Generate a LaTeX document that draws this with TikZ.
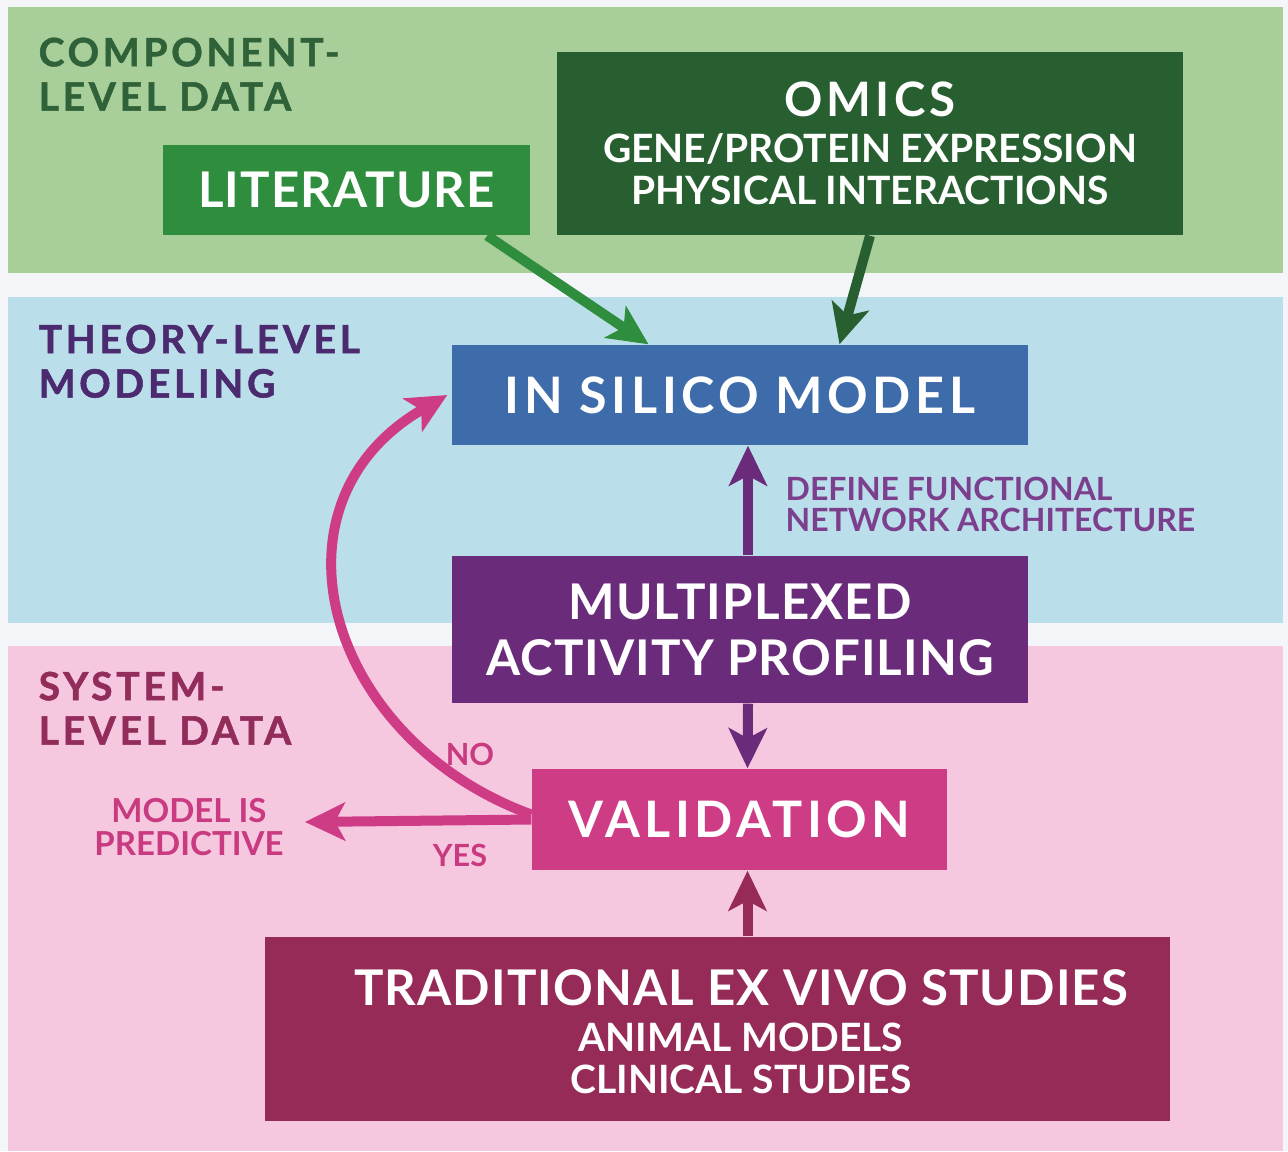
\documentclass[tikz,border=0pt]{standalone}
\usepackage{fontspec}
\setmainfont{Lato}
\newfontfamily\bandfont{Lato}[LetterSpace=9.5, BoldFeatures={FakeBold=1.3}]
\newfontfamily\widefont{Lato}[LetterSpace=9]
\newfontfamily\slightfont{Lato}[LetterSpace=2.3]
\usepackage{tikz}
\usetikzlibrary{arrows.meta,calc}
\definecolor{PageBg}{RGB}{244, 245, 248}
\definecolor{BandGreen}{RGB}{168, 207, 154}
\definecolor{BandBlue}{RGB}{186, 223, 234}
\definecolor{BandPink}{RGB}{246, 200, 223}
\definecolor{LitGreen}{RGB}{47, 142, 62}
\definecolor{OmicsGreen}{RGB}{40, 95, 48}
\definecolor{ModelBlue}{RGB}{62, 107, 170}
\definecolor{MapPurple}{RGB}{106, 43, 123}
\definecolor{ValidPink}{RGB}{207, 60, 134}
\definecolor{TradMagenta}{RGB}{150, 43, 88}
\definecolor{CompText}{RGB}{47, 98, 56}
\definecolor{TheoryText}{RGB}{75, 42, 111}
\definecolor{SystemText}{RGB}{146, 44, 90}
\definecolor{DefineText}{RGB}{124, 63, 142}
\definecolor{LoopText}{RGB}{201, 58, 128}
\tikzset{
    stepbox/.style={inner sep=0pt, text=white, font=\bfseries, align=center},
    bandlabel/.style={inner sep=0pt, anchor=north west, align=left, font=\bandfont\bfseries\fontsize{11.1}{12.6}\selectfont},
    flow/.style={line width=0.1cm, -{Stealth[length=0.4cm, width=0.38cm, inset=0.1cm]}},
}

\begin{document}
\begin{tikzpicture}
    \useasboundingbox (0,0) rectangle (12.88,-11.51);
    \fill[PageBg] (0,0) rectangle (12.88,-11.51);
    %%Bands
    \fill[BandGreen] (0.08,-0.07) rectangle (12.83,-2.73);
    \fill[BandBlue] (0.08,-2.97) rectangle (12.83,-6.23);
    \fill[BandPink] (0.08,-6.46) rectangle (12.83,-11.51);
    \node[bandlabel, text=CompText] (complabel) at (0.38,-0.37) {COMPONENT-\\LEVEL DATA};
    \node[bandlabel, text=TheoryText] (theorylabel) at (0.38,-3.24) {THEORY-LEVEL\\MODELING};
    \node[bandlabel, text=SystemText] (systemlabel) at (0.38,-6.71) {SYSTEM-\\LEVEL DATA};

    %%Boxes
    \node[stepbox, fill=LitGreen, minimum width=3.67cm, minimum height=0.90cm,
        font=\slightfont\bfseries\fontsize{14}{16}\selectfont] (lit) at (3.465,-1.90) {LITERATURE};
    \node[stepbox, fill=OmicsGreen, minimum width=6.26cm, minimum height=1.83cm] (omics) at (8.70,-1.435)
        {{\widefont\bfseries\fontsize{13.5}{13.7}\selectfont OMICS}\\[1pt]
         {\fontsize{11.1}{12.8}\selectfont GENE/PROTEIN EXPRESSION}\\
         {\fontsize{11.1}{12.8}\selectfont PHYSICAL INTERACTIONS}};
    \node[stepbox, fill=ModelBlue, minimum width=5.76cm, minimum height=1.00cm,
        font=\widefont\bfseries\fontsize{14.3}{16}\selectfont] (model) at (7.40,-3.95) {IN SILICO MODEL};
    \node[stepbox, fill=MapPurple, minimum width=5.76cm, minimum height=1.47cm,
        font=\slightfont\bfseries\fontsize{14}{15.9}\selectfont] (map) at (7.40,-6.295) {MULTIPLEXED\\ACTIVITY PROFILING};
    \node[stepbox, fill=ValidPink, minimum width=4.15cm, minimum height=1.01cm,
        font=\widefont\bfseries\fontsize{14.3}{16}\selectfont] (valid) at (7.395,-8.195) {VALIDATION};
    \node[stepbox, fill=TradMagenta, minimum width=9.05cm, minimum height=1.84cm] (trad) at (7.175,-10.29) {};
    \node[stepbox] (tradtext) at (7.41,-10.32)
        {{\slightfont\bfseries\fontsize{14}{15}\selectfont TRADITIONAL EX VIVO STUDIES}\\[1pt]
         {\fontsize{11.1}{13.2}\selectfont ANIMAL MODELS}\\
         {\fontsize{11.1}{13.2}\selectfont CLINICAL STUDIES}};

    %%Side labels
    \node[inner sep=0pt, anchor=north west, align=left, text=DefineText,
        font=\bfseries\fontsize{9.1}{8.8}\selectfont] (define) at (7.85,-4.76)
        {DEFINE FUNCTIONAL\\NETWORK ARCHITECTURE};
    \node[inner sep=0pt, text=LoopText, font=\bfseries\fontsize{8.7}{9}\selectfont] (no) at (4.70,-7.54) {NO};
    \node[inner sep=0pt, text=LoopText, font=\bfseries\fontsize{8.7}{9}\selectfont] (yes) at (4.60,-8.55) {YES};
    \node[inner sep=0pt, text=LoopText, align=center, font=\bfseries\fontsize{9.4}{9.4}\selectfont] (predictive) at (1.89,-8.27)
        {MODEL IS\\PREDICTIVE};
    \coordinate (exit) at (3.05,-8.22);

    %%Arrows
    \draw[flow, LitGreen] (lit.-18.9) to (model.151.8);
    \draw[flow, OmicsGreen] (omics.south) to (model.27.5);
    \draw[flow, MapPurple] ([xshift=0.08cm]map.north) to ([xshift=0.08cm]model.south);
    \draw[flow, MapPurple] ([xshift=0.08cm]map.south) to ([xshift=0.08cm]valid.north);
    \draw[flow, TradMagenta] ($(trad.north -| valid.south)+(0.08,0)$) to ([xshift=0.08cm]valid.south);
    \draw[flow, ValidPink] (valid.west) to (exit);
    \draw[flow, ValidPink] ([yshift=0.05cm]valid.west) to[out=160, in=210, looseness=1.3] ([xshift=-0.04cm]model.west);
\end{tikzpicture}
\end{document}
